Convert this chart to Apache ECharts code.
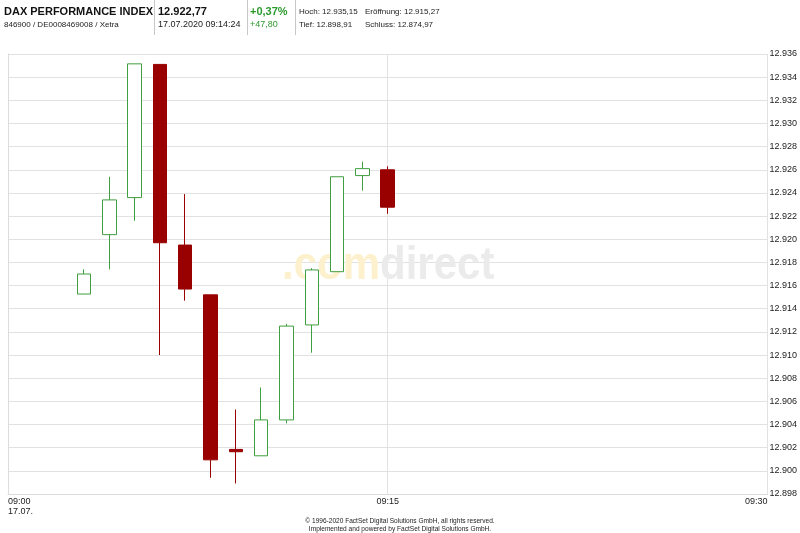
<!DOCTYPE html>
<html>
<head>
<meta charset="utf-8">
<script src="https://cdn.jsdelivr.net/npm/echarts@6/dist/echarts.min.js"></script>
<style>
html,body{margin:0;padding:0;background:#fff;}
#chart{width:800px;height:533px;}
</style>
</head>
<body>
<div id="chart"></div>
<script>
// Minute bars, DAX Performance Index, 17.07.2020
const times  = ['09:03','09:04','09:05','09:06','09:07','09:08','09:09','09:10','09:11','09:12','09:13','09:14','09:15'];
const opens  = [12915.27,12920.4,12923.6,12935.1,12919.5,12915.2,12901.85,12901.3,12904.4,12912.6,12917.2,12925.5,12926.0];
const closes = [12917.0,12923.4,12935.15,12919.7,12915.7,12900.95,12901.65,12904.4,12912.5,12917.35,12925.4,12926.1,12922.77];
const lows   = [12915.27,12917.4,12921.6,12910.0,12914.7,12899.4,12898.91,12901.3,12904.1,12910.2,12917.2,12924.2,12922.2];
const highs  = [12917.4,12925.4,12935.15,12935.1,12923.9,12915.2,12905.3,12907.2,12912.7,12917.5,12925.4,12926.7,12926.3];

const xTicks = ['09:00','09:15','09:30'];
const xDate = '17.07.';
const yMin = 12898, yMax = 12936, yStep = 2;

function toMin(t){ const p = t.split(':'); return (+p[0]-9)*60 + (+p[1]); }
const candleData = times.map((t,i)=>[toMin(t), opens[i], closes[i], lows[i], highs[i]]);

const chart = echarts.init(document.getElementById('chart'));
const FONT = '"Liberation Sans", Arial, sans-serif';
const GREEN_TXT = '#2d9a2d';

const header = [
  {t:'DAX PERFORMANCE INDEX', x:4, y:12, s:11, b:true, c:'#111'},
  {t:'846900 / DE0008469008 / Xetra', x:4, y:25, s:8, c:'#222'},
  {t:'12.922,77', x:158, y:12, s:11, b:true, c:'#111'},
  {t:'17.07.2020 09:14:24', x:158, y:25, s:9, c:'#222'},
  {t:'+0,37%', x:250, y:12, s:11, b:true, c:GREEN_TXT},
  {t:'+47,80', x:250, y:25, s:9, c:GREEN_TXT},
  {t:'Hoch: 12.935,15', x:299, y:12, s:8, c:'#222'},
  {t:'Eröffnung: 12.915,27', x:365, y:12, s:8, c:'#222'},
  {t:'Tief: 12.898,91', x:299, y:25, s:8, c:'#222'},
  {t:'Schluss: 12.874,97', x:365, y:25, s:8, c:'#222'}
];

const graphics = header.map(h=>({
  type:'text', x:h.x, y:h.y, z:10,
  style:{text:h.t, fill:h.c, font:(h.b?'bold ':'')+h.s+'px '+FONT, textVerticalAlign:'middle', textAlign:'left'}
}));
[154,247,295].forEach(x=>{
  graphics.push({type:'line', z:10, shape:{x1:x+0.5,y1:0,x2:x+0.5,y2:35}, style:{stroke:'#c8c8c8', lineWidth:1}});
});
// watermark
graphics.push({
  type:'text', x:282, y:290, z:1, scaleY:1.12,
  style:{
    text:'{a|.com}{b|direct}',
    textVerticalAlign:'bottom',
    rich:{
      a:{fill:'#fcf1cc', font:'bold 42px '+FONT},
      b:{fill:'#ebebeb', font:'bold 42px '+FONT}
    }
  }
});
// footer
graphics.push({type:'text', x:400, y:521, z:10, scaleX:0.82,
  style:{text:'© 1996-2020 FactSet Digital Solutions GmbH, all rights reserved.', fill:'#222', font:'8px '+FONT, textAlign:'center', textVerticalAlign:'middle'}});
graphics.push({type:'text', x:400, y:529, z:10, scaleX:0.82,
  style:{text:'Implemented and powered by FactSet Digital Solutions GmbH.', fill:'#222', font:'8px '+FONT, textAlign:'center', textVerticalAlign:'middle'}});

chart.setOption({
  animation:false,
  backgroundColor:'#ffffff',
  textStyle:{fontFamily:FONT},
  graphic:graphics,
  grid:{left:8, right:30, top:54, bottom:39, containLabel:false},
  xAxis:{
    type:'value', min:0, max:30, interval:15,
    axisLine:{show:true, lineStyle:{color:'#dcdcdc'}},
    axisTick:{show:false},
    splitLine:{show:true, lineStyle:{color:'#e2e2e2'}},
    axisLabel:{
      margin:3, fontSize:9, color:'#222', lineHeight:10, fontFamily:FONT,
      showMinLabel:true, showMaxLabel:true,
      alignMinLabel:'left', alignMaxLabel:'right',
      formatter:function(v){
        const i = Math.round(v/15);
        return i===0 ? xTicks[0]+'\n'+xDate : xTicks[i];
      }
    }
  },
  yAxis:{
    type:'value', position:'right', min:yMin, max:yMax, interval:yStep, scale:true,
    axisLine:{show:true, lineStyle:{color:'#dcdcdc'}},
    axisTick:{show:false},
    splitLine:{show:true, lineStyle:{color:'#e2e2e2'}},
    axisLabel:{
      margin:2, fontSize:9, color:'#222', fontFamily:FONT,
      formatter:function(v){ return (v/1000).toFixed(3); }
    }
  },
  series:[{
    type:'candlestick',
    z:3,
    barWidth:14,
    encode:{x:0, y:[1,2,3,4]},
    data:candleData,
    itemStyle:{
      color:'#ffffff', color0:'#990000',
      borderColor:'#3f9e3f', borderColor0:'#990000', borderWidth:1
    }
  }]
});
</script>
</body>
</html>
